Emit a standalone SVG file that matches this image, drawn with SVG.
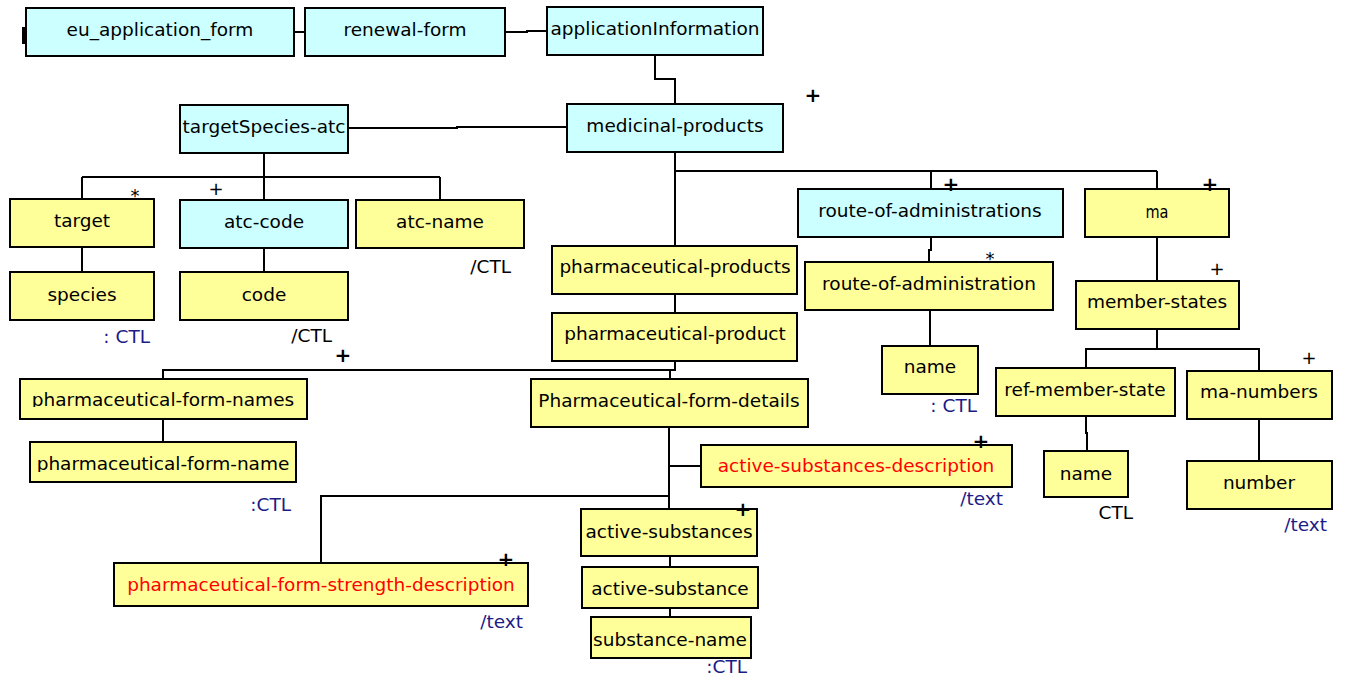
<svg xmlns="http://www.w3.org/2000/svg" width="1346" height="680" viewBox="0 0 1346 680">
<style>
.c rect{fill:#ccffff;stroke:#000;stroke-width:2}
.y rect{fill:#ffff99;stroke:#000;stroke-width:2}
text{font-family:"DejaVu Sans","Verdana",sans-serif;font-size:18.5px;fill:#000}
.n text{text-anchor:middle}
.red{fill:#ff0000}
.nv{fill:#1c1c87}
.pl{text-anchor:middle;font-size:20px;font-weight:bold;fill:#000}
.pt{text-anchor:middle;font-size:18px;fill:#000}
.st{text-anchor:middle;font-size:18px;fill:#000}
#conn path{fill:none;stroke:#000;stroke-width:2}
</style>
<defs>
<clipPath id="clipPfn"><rect x="20" y="379" width="287" height="28"/></clipPath>
<clipPath id="clipPfn2"><rect x="30" y="442" width="266" height="30"/></clipPath>
</defs>
<rect width="1346" height="680" fill="#fff"/>
<g id="conn">
<path d="M294,32H305"/>
<path d="M505,32H527V31H547"/>
<path d="M655,55V79H675V104"/>
<path d="M348,128H457V127H567"/>
<path d="M264,153V177M82,177H440M82,177V199M264,177V200M440,177V200"/>
<path d="M82,247V272"/>
<path d="M264,248V272"/>
<path d="M675,152V246M675,171H1157M931,171V189M1157,171V189"/>
<path d="M675,294V313"/>
<path d="M675,361V370H163V379M670,370V379"/>
<path d="M163,419V442"/>
<path d="M669,427V509M669,466H701M321,563V496H669"/>
<path d="M670,556V567M670,608V617"/>
<path d="M931,237V250H929V262"/>
<path d="M930,310V346"/>
<path d="M1157,237V281"/>
<path d="M1157,329V349M1086,368V349H1259V371"/>
<path d="M1086,416V433H1087V451"/>
<path d="M1259,419V461"/>
</g>
<rect x="22" y="27" width="4" height="17" fill="#000"/>
<g id="eu_application_form" class="c n"><rect x="26" y="8" width="268" height="48"/><text x="160" y="36">eu_application_form</text></g>
<g id="renewal-form" class="c n"><rect x="305" y="8" width="200" height="48"/><text x="405" y="36">renewal-form</text></g>
<g id="applicationInformation" class="c n"><rect x="547" y="7" width="216" height="48"/><text x="655" y="35">applicationInformation</text></g>
<g id="medicinal-products" class="c n"><rect x="567" y="104" width="216" height="48"/><text x="675" y="132">medicinal-products</text></g>
<g id="targetSpecies-atc" class="c n"><rect x="180" y="105" width="168" height="48"/><text x="264" y="133">targetSpecies-atc</text></g>
<g id="target" class="y n"><rect x="10" y="199" width="144" height="48"/><text x="82" y="227">target</text></g>
<g id="atc-code" class="c n"><rect x="180" y="200" width="168" height="48"/><text x="264" y="228">atc-code</text></g>
<g id="atc-name" class="y n"><rect x="356" y="200" width="168" height="48"/><text x="440" y="228">atc-name</text></g>
<g id="species" class="y n"><rect x="10" y="272" width="144" height="48"/><text x="82" y="301">species</text></g>
<g id="code" class="y n"><rect x="180" y="272" width="168" height="48"/><text x="264" y="301">code</text></g>
<g id="route-of-administrations" class="c n"><rect x="798" y="189" width="265" height="48"/><text x="930" y="217">route-of-administrations</text></g>
<g id="ma" class="y n"><rect x="1085" y="189" width="144" height="48"/><text x="1157" y="218" font-size="18" textLength="23" lengthAdjust="spacingAndGlyphs">ma</text></g>
<g id="route-of-administration" class="y n"><rect x="805" y="262" width="248" height="48"/><text x="929" y="290">route-of-administration</text></g>
<g id="member-states" class="y n"><rect x="1076" y="281" width="163" height="48"/><text x="1157" y="308">member-states</text></g>
<g id="pharmaceutical-products" class="y n"><rect x="552" y="246" width="245" height="48"/><text x="675" y="273">pharmaceutical-products</text></g>
<g id="pharmaceutical-product" class="y n"><rect x="552" y="313" width="245" height="48"/><text x="675" y="340">pharmaceutical-product</text></g>
<g id="name-route" class="y n"><rect x="882" y="346" width="96" height="48"/><text x="930" y="373">name</text></g>
<g id="pharmaceutical-form-names" class="y n"><rect x="20" y="379" width="287" height="40"/><text x="163" y="406" clip-path="url(#clipPfn)">pharmaceutical-form-names</text></g>
<g id="Pharmaceutical-form-details" class="y n"><rect x="531" y="379" width="277" height="48"/><text x="669" y="407">Pharmaceutical-form-details</text></g>
<g id="ref-member-state" class="y n"><rect x="996" y="368" width="179" height="48"/><text x="1085" y="396">ref-member-state</text></g>
<g id="ma-numbers" class="y n"><rect x="1187" y="371" width="145" height="48"/><text x="1259" y="398">ma-numbers</text></g>
<g id="pharmaceutical-form-name" class="y n"><rect x="30" y="442" width="266" height="40"/><text x="163" y="470" clip-path="url(#clipPfn2)">pharmaceutical-form-name</text></g>
<g id="active-substances-description" class="y n"><rect x="701" y="445" width="311" height="42"/><text class="red" x="856" y="472">active-substances-description</text></g>
<g id="name-member" class="y n"><rect x="1044" y="451" width="84" height="46"/><text x="1086" y="480">name</text></g>
<g id="number" class="y n"><rect x="1187" y="461" width="145" height="48"/><text x="1259" y="489">number</text></g>
<g id="active-substances" class="y n"><rect x="581" y="509" width="176" height="47"/><text x="669" y="538">active-substances</text></g>
<g id="pharmaceutical-form-strength-description" class="y n"><rect x="114" y="563" width="414" height="43"/><text class="red" x="321" y="591">pharmaceutical-form-strength-description</text></g>
<g id="active-substance" class="y n"><rect x="582" y="567" width="176" height="41"/><text x="670" y="595">active-substance</text></g>
<g id="substance-name" class="y n"><rect x="591" y="617" width="160" height="41"/><text x="670" y="646">substance-name</text></g>
<g id="annotations">
<text class="nv" x="150" y="343" text-anchor="end">: CTL</text>
<text x="332" y="342" text-anchor="end">/CTL</text>
<text x="511" y="273" text-anchor="end">/CTL</text>
<text class="nv" x="291" y="511" text-anchor="end">:CTL</text>
<text class="nv" x="977" y="412" text-anchor="end">: CTL</text>
<text class="nv" x="1003" y="505" text-anchor="end">/text</text>
<text x="1133" y="519" text-anchor="end">CTL</text>
<text class="nv" x="1327" y="531" text-anchor="end">/text</text>
<text class="nv" x="523" y="628" text-anchor="end">/text</text>
<text class="nv" x="747" y="673" text-anchor="end">:CTL</text>
<text class="pl" x="813" y="102">+</text>
<text class="pt" x="216" y="195">+</text>
<text class="st" x="135" y="202">*</text>
<text class="pl" x="951" y="191">+</text>
<text class="pl" x="1210" y="191">+</text>
<text class="st" x="990" y="265">*</text>
<text class="pt" x="1217" y="275">+</text>
<text class="pl" x="343" y="362">+</text>
<text class="pt" x="1309" y="364">+</text>
<text class="pl" x="981" y="448">+</text>
<text class="pl" x="743" y="516">+</text>
<text class="pl" x="506" y="566">+</text>
</g>
</svg>
